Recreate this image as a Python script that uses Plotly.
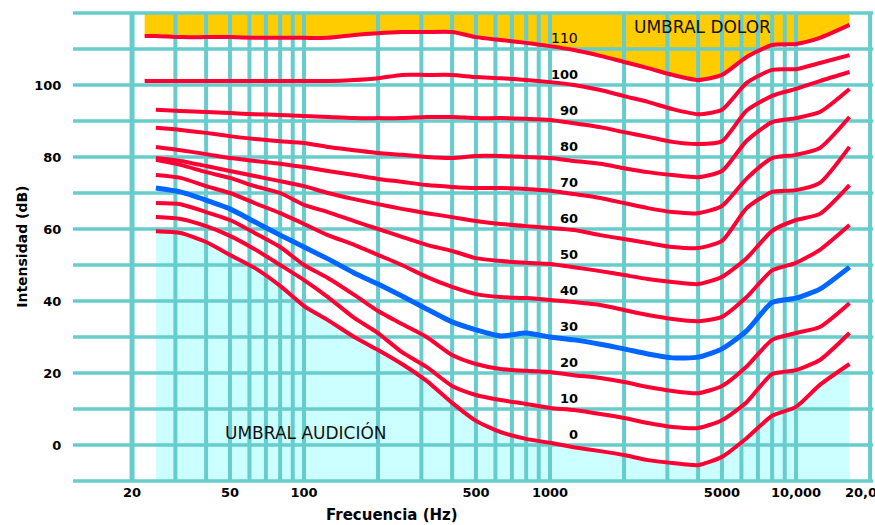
import math
import plotly.graph_objects as go

# ---------------- data ----------------
FREQ = [22.5, 25, 31.5, 40, 50, 63, 80, 100, 125, 160, 200, 250, 315, 400, 500,
        630, 800, 1000, 1250, 1600, 2000, 2500, 3150, 4000, 5000, 6300, 8000,
        10000, 12500, 16500]
N = None
PHON_110 = [113.6, 113.6, 113.3, 113.3, 113.3, 113.1, 113.1, 113.1, 113.1, 113.9,
            114.4, 114.7, 114.7, 114.7, 113.3, 112.5, 111.7, 110.8, 109.7, 108.1,
            106.4, 104.7, 102.8, 101.4, 102.8, 107.8, 111.1, 111.4, 113.1, 116.7]
PHON_100 = [101.1, 101.1, 101.1, 101.1, 101.1, 101.1, 101.1, 101.1, 101.1, 101.4,
            101.9, 102.8, 102.8, 102.8, 102.2, 101.9, 101.4, 100.8, 100.0, 98.6,
            96.9, 95.3, 93.3, 91.9, 93.1, 100.6, 104.2, 104.4, 106.1, 108.3]
PHON_90 = [N, 93.1, 92.8, 92.5, 92.2, 91.9, 91.7, 91.4, 91.1, 90.8,
           90.8, 90.8, 91.1, 91.1, 90.8, 90.8, 90.6, 90.3, 89.4, 88.3,
           86.9, 85.6, 84.2, 83.6, 84.4, 92.9, 97.0, 98.9, 101.1, 103.6]
PHON_80 = [N, 88.1, 87.5, 86.7, 85.8, 85.0, 84.4, 83.9, 82.8, 81.9,
           81.1, 80.6, 80.0, 79.7, 80.3, 80.3, 80.0, 79.7, 78.9, 78.1,
           76.9, 75.8, 75.0, 74.4, 76.1, 84.5, 89.7, 90.8, 92.5, 98.9]
PHON_70 = [N, 82.8, 81.9, 80.8, 79.7, 78.9, 78.1, 77.2, 76.1, 75.0,
           73.9, 73.1, 72.2, 71.7, 71.4, 71.4, 71.1, 70.6, 69.7, 68.6,
           67.2, 65.8, 64.7, 64.4, 66.4, 74.0, 79.7, 80.6, 82.5, 91.1]
PHON_60 = [N, 79.7, 78.9, 77.5, 76.1, 74.7, 73.3, 71.9, 70.0, 68.3,
           66.9, 65.6, 64.4, 63.3, 62.2, 61.4, 60.8, 60.3, 59.7, 58.3,
           57.2, 56.1, 55.0, 54.7, 56.7, 65.8, 70.3, 70.8, 72.8, 82.8]
PHON_50 = [N, 79.2, 77.8, 75.8, 74.2, 71.9, 70.0, 66.7, 64.7, 62.2,
           60.0, 57.8, 55.6, 53.9, 51.9, 51.1, 50.6, 50.3, 49.4, 48.3,
           47.2, 46.1, 45.3, 44.7, 46.7, 51.9, 59.5, 62.5, 64.2, 72.2]
PHON_40 = [N, 75.0, 74.2, 71.9, 70.0, 67.2, 64.4, 61.4, 58.3, 55.6,
           52.8, 50.0, 46.7, 43.9, 41.9, 41.1, 40.8, 40.3, 39.7, 38.9,
           37.5, 36.1, 35.0, 34.4, 35.6, 41.1, 48.5, 50.6, 54.2, 61.1]
PHON_30 = [N, 71.4, 70.3, 68.0, 65.6, 62.0, 58.3, 55.0, 51.7, 47.8,
           44.7, 41.4, 37.8, 34.2, 32.0, 30.3, 31.1, 30.0, 29.2, 28.0,
           26.7, 25.3, 24.2, 24.4, 26.7, 31.7, 39.6, 40.8, 43.3, 49.4]
PHON_20 = [N, 67.2, 66.9, 64.7, 62.5, 58.9, 55.0, 50.0, 46.4, 41.7,
           37.2, 33.6, 30.0, 25.0, 22.5, 21.1, 20.6, 20.3, 19.4, 18.6,
           17.5, 16.1, 15.0, 14.4, 16.4, 21.8, 29.2, 31.1, 32.8, 39.4]
PHON_10 = [N, 63.3, 62.8, 60.8, 58.1, 54.4, 50.0, 45.8, 41.1, 35.3,
           31.1, 25.8, 21.7, 16.4, 13.9, 12.5, 11.4, 10.3, 9.7, 8.6,
           7.5, 6.1, 5.0, 4.7, 6.9, 11.9, 19.7, 20.8, 23.6, 31.1]
PHON_0 = [N, 59.4, 58.9, 56.4, 52.8, 49.2, 44.2, 38.6, 34.7, 30.0,
          26.4, 22.5, 17.8, 11.7, 6.7, 3.6, 1.7, 0.6, -0.6, -1.7,
          -2.8, -4.2, -5.0, -5.6, -3.3, 1.9, 8.1, 10.6, 16.7, 22.5]

PHON_LEVELS = [0, 10, 20, 30, 40, 50, 60, 70, 80, 90, 100, 110]
CURVES = [PHON_0, PHON_10, PHON_20, PHON_30, PHON_40, PHON_50, PHON_60,
          PHON_70, PHON_80, PHON_90, PHON_100, PHON_110]
BLUE_LEVEL = 30

X_TICKS = [20, 50, 100, 500, 1000, 5000, 10000, 20000]
X_TICK_TEXT = ["20", "50", "100", "500", "1000", "5000", "10,000", "20,000"]
Y_TICKS = [0, 20, 40, 60, 80, 100]
Y_TICK_TEXT = ["0", "20", "40", "60", "80", "100"]
GRID_FREQS = [30, 40, 50, 60, 70, 80, 90, 100, 200, 300, 400, 500, 600, 700,
              800, 900, 1000, 2000, 3000, 4000, 5000, 6000, 7000, 8000, 9000,
              10000, 20000]
GRID_MAIN_FREQ = 20
GRID_DB = list(range(-10, 121, 10))
PAIN_TOP = 120
FLOOR = -10
LABEL_FREQ = 1330

# ---------------- styles ----------------
GRID = "#66CCCC"
RED = "#FF0033"
BLUE = "#0066FF"
ORANGE = "#FFCC00"
CYAN = "#CCFFFF"
X_RANGE = [1.061, 4.313]
Y_RANGE = [-10.556, 120.556]
x_lo, x_hi = 10 ** X_RANGE[0], 10 ** X_RANGE[1]

fig = go.Figure()
SHAPE = dict(shape="spline", smoothing=0.6)

# orange (pain threshold) fill
fig.add_trace(go.Scatter(x=FREQ, y=[PAIN_TOP] * len(FREQ), mode="lines",
                         line=dict(width=0), hoverinfo="skip", showlegend=False))
fig.add_trace(go.Scatter(x=FREQ, y=PHON_110, mode="lines", fill="tonexty",
                         fillcolor=ORANGE, line=dict(width=0, **SHAPE),
                         hoverinfo="skip", showlegend=False))
# cyan (hearing threshold) fill
fx = [f for f, v in zip(FREQ, PHON_0) if v is not None]
fy = [v for v in PHON_0 if v is not None]
fig.add_trace(go.Scatter(x=fx, y=[FLOOR] * len(fx), mode="lines",
                         line=dict(width=0), hoverinfo="skip", showlegend=False))
fig.add_trace(go.Scatter(x=fx, y=fy, mode="lines", fill="tonexty",
                         fillcolor=CYAN, line=dict(width=0, **SHAPE),
                         hoverinfo="skip", showlegend=False))

# grid lines (drawn over the fills, under the curves)
hx, hy = [], []
for d in GRID_DB:
    hx += [x_lo, x_hi, None]
    hy += [d, d, None]
fig.add_trace(go.Scatter(x=hx, y=hy, mode="lines", line=dict(color=GRID, width=3.5),
                         hoverinfo="skip", showlegend=False))
vx, vy = [], []
for f in GRID_FREQS:
    vx += [f, f, None]
    vy += [FLOOR, PAIN_TOP, None]
fig.add_trace(go.Scatter(x=vx, y=vy, mode="lines", line=dict(color=GRID, width=4),
                         hoverinfo="skip", showlegend=False))
fig.add_trace(go.Scatter(x=[GRID_MAIN_FREQ, GRID_MAIN_FREQ], y=[FLOOR, PAIN_TOP],
                         mode="lines", line=dict(color=GRID, width=5),
                         hoverinfo="skip", showlegend=False))

# equal-loudness contours
for lvl, vals in zip(PHON_LEVELS, CURVES):
    blue = lvl == BLUE_LEVEL
    fig.add_trace(go.Scatter(x=FREQ, y=vals, mode="lines",
                             line=dict(color=BLUE if blue else RED,
                                       width=5 if blue else 4, **SHAPE),
                             name=f"{lvl} fon", showlegend=False))

ann = []
LBL_FONT = dict(family="DejaVu Sans", size=13, color="black", weight="bold")
for lvl in PHON_LEVELS:
    if lvl == 110:
        font = dict(family="DejaVu Sans", size=14, color="black")
    else:
        font = LBL_FONT
    ann.append(dict(x=math.log10(LABEL_FREQ), y=lvl + 3, text=str(lvl),
                    xref="x", yref="y", xanchor="right", yanchor="middle",
                    showarrow=False, font=font))

ann.append(dict(x=math.log10(102), y=3.6, text="UMBRAL AUDICIÓN", xref="x", yref="y",
                showarrow=False, xanchor="center", yanchor="middle",
                font=dict(family="DejaVu Sans", size=17, color="#111111")))
ann.append(dict(x=3.618, y=116.1, text="UMBRAL DOLOR", xref="x", yref="y",
                showarrow=False, xanchor="center", yanchor="middle",
                font=dict(family="DejaVu Sans", size=17, color="#111111")))
ann.append(dict(x=0.399, y=-0.068, text="Frecuencia (Hz)", xref="paper", yref="paper",
                showarrow=False, xanchor="center", yanchor="middle",
                font=dict(family="DejaVu Sans", size=15, color="black", weight="bold")))
ann.append(dict(x=-0.064, y=0.5, text="Intensidad (dB)", xref="paper", yref="paper",
                showarrow=False, xanchor="center", yanchor="middle", textangle=-90,
                font=dict(family="DejaVu Sans", size=14, color="black", weight="bold")))

TICK_FONT = dict(family="DejaVu Sans", size=13, color="black", weight="bold")
fig.update_layout(
    width=875, height=525,
    margin=dict(l=73, r=2, t=11, b=42, autoexpand=False),
    paper_bgcolor="white", plot_bgcolor="white",
    xaxis=dict(type="log", range=X_RANGE, showgrid=False, zeroline=False,
               showline=False, tickmode="array", tickvals=X_TICKS,
               ticktext=X_TICK_TEXT, tickfont=TICK_FONT, ticks="",
               ticklabeloverflow="allow", automargin=False),
    yaxis=dict(range=Y_RANGE, showgrid=False, zeroline=False, showline=False,
               tickmode="array", tickvals=Y_TICKS, ticktext=Y_TICK_TEXT,
               tickfont=TICK_FONT, ticks="outside", ticklen=8,
               tickcolor="rgba(0,0,0,0)", automargin=False),
    annotations=ann,
    showlegend=False,
)

fig.write_html("out.html", config={"displayModeBar": False})
